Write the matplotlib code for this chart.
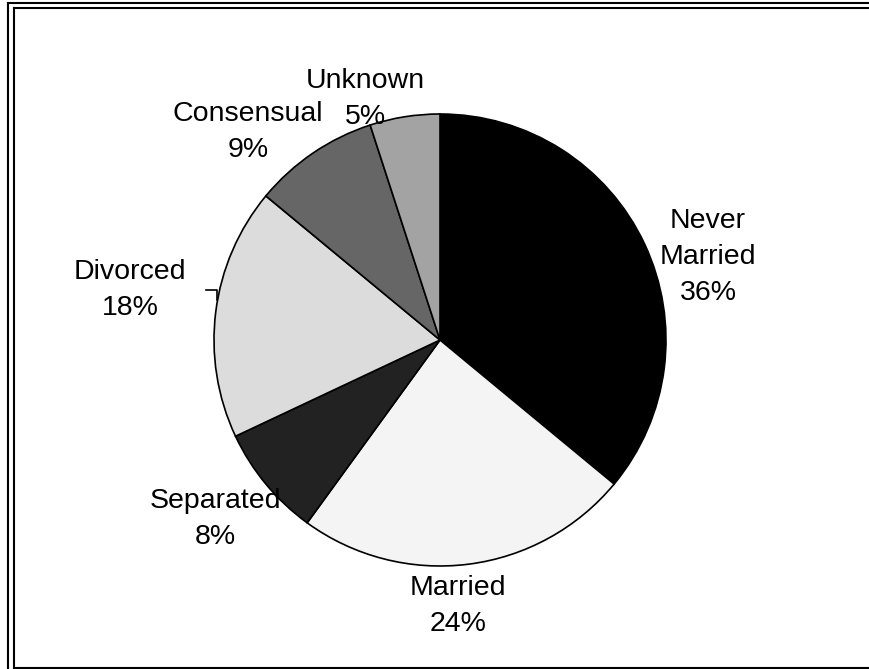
import matplotlib
matplotlib.use("Agg")
import matplotlib.pyplot as plt
from matplotlib.lines import Line2D

plt.rcParams['font.family'] = ['Liberation Sans', 'DejaVu Sans']

# Marital status shares (percent)
categories = ["Never\nMarried", "Married", "Separated", "Divorced", "Consensual", "Unknown"]
shares = [36, 24, 8, 18, 9, 5]
slice_colors = ["#000000", "#f4f4f4", "#222222", "#dcdcdc", "#666666", "#a3a3a3"]

W, H = 869, 669
fig = plt.figure(figsize=(W / 100, H / 100), dpi=100)
ax = fig.add_axes([0, 0, 1, 1])

cx, cy, r = 440, H - 340, 226
ax.pie(shares, colors=slice_colors, startangle=90, counterclock=False,
       center=(cx, cy), radius=r,
       wedgeprops=dict(edgecolor="black", linewidth=1.2))
ax.set_xlim(0, W)
ax.set_ylim(0, H)
ax.set_aspect("equal")
ax.axis("off")

# label block centres in pixel coordinates (x, y from top)
label_pos = [(708, 257), (458, 606), (215, 519), (130, 290), (248, 132), (365, 99)]
for name, val, (lx, ly) in zip(categories, shares, label_pos):
    ax.text(lx, H - ly, f"{name}\n{val}%", ha="center", va="center",
            fontsize=20.5, linespacing=1.5, color="black")

# leader line for the Divorced label
ax.plot([206, 217, 217], [H - 290, H - 290, H - 300], color="black", lw=1.2)

# frame lines
lw = 1.5
def hline(y, x0, x1):
    fig.add_artist(Line2D([x0 / W, x1 / W], [1 - y / H, 1 - y / H],
                          transform=fig.transFigure, color="black", lw=lw))
def vline(x, y0, y1):
    fig.add_artist(Line2D([x / W, x / W], [1 - y0 / H, 1 - y1 / H],
                          transform=fig.transFigure, color="black", lw=lw))

vline(8, 3, H)
hline(3, 8, W)
vline(13.5, 7.5, 667.5)
hline(7.5, 13.5, W)
hline(667.5, 13.5, W)

fig.savefig("out.png", dpi=100)
